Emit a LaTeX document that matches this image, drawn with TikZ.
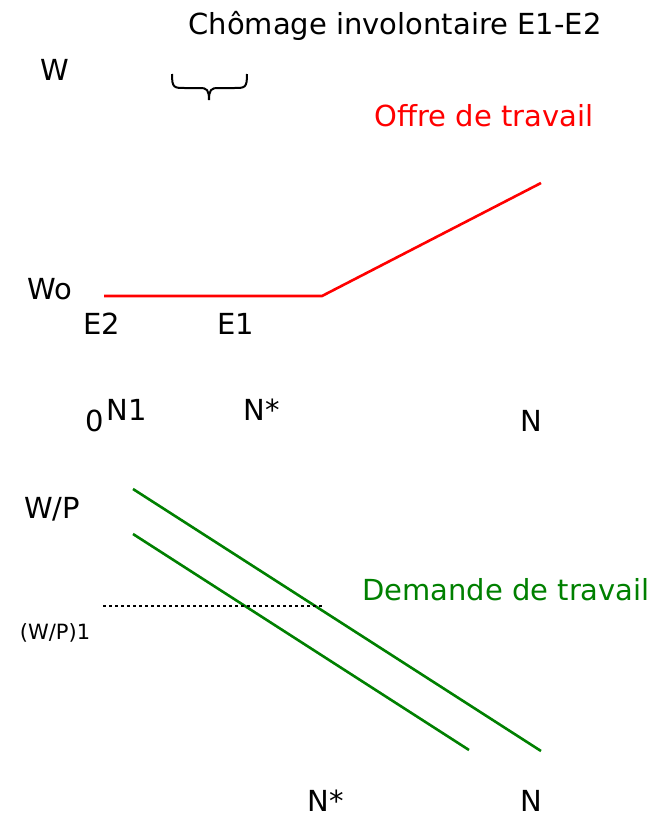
\documentclass[tikz,border=0pt]{standalone}
\usepackage{fontspec}
\setmainfont{DejaVu Sans}
\definecolor{dgreen}{RGB}{0,128,0}
\begin{document}
\begin{tikzpicture}[x=1pt,y=-1pt,
  lbl/.style={inner sep=0pt,font=\fontsize{29}{32}\selectfont},
  small/.style={inner sep=0pt,font=\fontsize{21}{24}\selectfont},
  curve/.style={line width=2.6pt}]
\useasboundingbox (0,0) rectangle (652,820);
% top labels
\node[lbl] (title) at (395,26) {Chômage involontaire E1-E2};
\node[lbl] (W) at (55,70) {W};
\node[lbl,red] (offre) at (484,116) {Offre de travail};
\draw[line width=2pt] (172,74) .. controls (172,88) and (174,88) .. (185,88) -- (200,88) .. controls (207,88) and (209,90) .. (209,100) .. controls (209,90) and (211,88) .. (218,88) -- (234,88) .. controls (245,88) and (247,88) .. (247,74);
% supply curve
\coordinate (s0) at (104,296);
\coordinate (s1) at (322,296);
\coordinate (s2) at (541,183);
\draw[curve,red] (s0) -- (s1) -- (s2);
\node[lbl] (Wo) at (50,289) {Wo};
\node[lbl] (E2) at (102,324) {E2};
\node[lbl] (E1) at (236,324) {E1};
\node[lbl] (zero) at (95,421) {0};
\node[lbl] (N1) at (127,410) {N1};
\node[lbl] (Nstar1) at (262,410) {N*};
\node[lbl] (N1b) at (531,421) {N};
% demand curves
\node[lbl] (WP) at (52,509) {W/P};
\node[small] (WP1) at (55,633) {(W/P)1};
\node[lbl,dgreen] (demande) at (506,590) {Demande de travail};
\coordinate (d1a) at (133,489);
\coordinate (d1b) at (541,751);
\coordinate (d2a) at (133,534);
\coordinate (d2b) at (469,750);
\draw[curve,dgreen] (d1a) -- (d1b);
\draw[curve,dgreen] (d2a) -- (d2b);
\coordinate (p0) at (103,606);
\coordinate (p1) at (322,606);
\draw[line width=2.6pt,dash pattern=on 3pt off 3pt] (p0) -- (p1);
\node[lbl] (Nstar2) at (326,801) {N*};
\node[lbl] (N2) at (531,801) {N};
\end{tikzpicture}
\end{document}
